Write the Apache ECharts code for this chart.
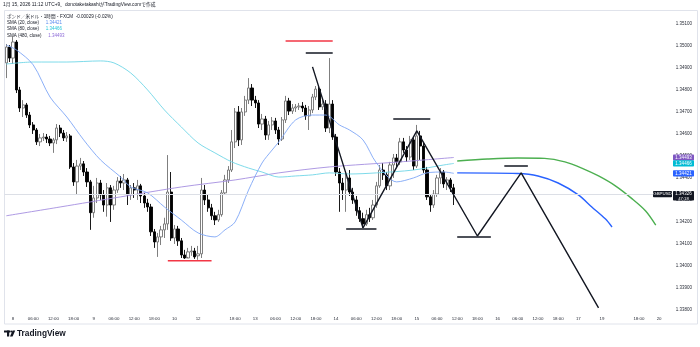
<!DOCTYPE html>
<html><head><meta charset="utf-8">
<script src="https://cdn.jsdelivr.net/npm/echarts@6/dist/echarts.min.js"></script>
<style>html,body{margin:0;padding:0;background:#fff}#c{width:700px;height:347px}</style>
</head><body><div id="c"></div><script>
// trading sessions shown on the time axis: [day of Jan, first hour, last hour] (JST, weekend gaps removed)
const SESSIONS = [[7,22,23],[8,0,23],[9,0,23],[10,0,6],[12,7,23],[13,0,23],[14,0,23],[15,0,23],[16,0,23],[17,0,6],[19,7,23],[20,0,0]];
const TICK_LABELS = [
 ['1/8 00:00','8'],['1/8 06:00','06:00'],['1/8 12:00','12:00'],['1/8 18:00','18:00'],
 ['1/9 00:00','9'],['1/9 06:00','06:00'],['1/9 12:00','12:00'],['1/9 18:00','18:00'],
 ['1/10 00:00','10'],['1/12 07:00','12'],['1/12 18:00','18:00'],
 ['1/13 00:00','13'],['1/13 06:00','06:00'],['1/13 12:00','12:00'],['1/13 18:00','18:00'],
 ['1/14 00:00','14'],['1/14 06:00','06:00'],['1/14 12:00','12:00'],['1/14 18:00','18:00'],
 ['1/15 00:00','15'],['1/15 06:00','06:00'],['1/15 12:00','12:00'],['1/15 18:00','18:00'],
 ['1/16 00:00','16'],['1/16 06:00','06:00'],['1/16 12:00','12:00'],['1/16 18:00','18:00'],
 ['1/17 00:00','17'],['1/19 07:00','19'],['1/19 18:00','18:00'],['1/20 00:00','20']
];
// hourly candles: [open, close, low, high]
const CANDLES = [
[1.34923,1.34995,1.34854,1.35009],[1.34995,1.34945,1.34927,1.35004],[1.34945,1.35018,1.34918,1.35045],[1.35018,1.34800,1.34786,1.35027],
[1.34800,1.34718,1.34700,1.34814],[1.34718,1.34732,1.34677,1.34754],[1.34732,1.34686,1.34673,1.34741],[1.34686,1.34641,1.34627,1.34700],
[1.34641,1.34618,1.34600,1.34654],[1.34618,1.34564,1.34550,1.34627],[1.34564,1.34582,1.34545,1.34600],[1.34582,1.34586,1.34568,1.34604],
[1.34586,1.34577,1.34559,1.34600],[1.34577,1.34559,1.34545,1.34591],[1.34559,1.34573,1.34514,1.34582],[1.34573,1.34627,1.34554,1.34645],
[1.34627,1.34604,1.34586,1.34641],[1.34604,1.34582,1.34568,1.34618],[1.34582,1.34591,1.34564,1.34609],[1.34591,1.34450,1.34441,1.34600],
[1.34450,1.34382,1.34364,1.34468],[1.34382,1.34454,1.34323,1.34482],[1.34454,1.34464,1.34436,1.34491],[1.34464,1.34427,1.34409,1.34477],
[1.34427,1.34382,1.34359,1.34445],[1.34382,1.34242,1.34164,1.34391],[1.34242,1.34309,1.34219,1.34364],[1.34309,1.34377,1.34286,1.34400],
[1.34377,1.34323,1.34300,1.34391],[1.34323,1.34277,1.34246,1.34345],[1.34277,1.34355,1.34224,1.34377],[1.34355,1.34277,1.34200,1.34368],
[1.34277,1.34345,1.34255,1.34364],[1.34345,1.34386,1.34332,1.34404],[1.34386,1.34377,1.34355,1.34409],[1.34377,1.34391,1.34345,1.34418],
[1.34391,1.34323,1.34277,1.34400],[1.34323,1.34355,1.34300,1.34368],[1.34355,1.34345,1.34309,1.34377],[1.34345,1.34364,1.34300,1.34391],
[1.34364,1.34318,1.34286,1.34373],[1.34318,1.34286,1.34264,1.34332],[1.34286,1.34268,1.34246,1.34305],[1.34268,1.34155,1.34136,1.34282],
[1.34155,1.34109,1.34082,1.34168],[1.34109,1.34132,1.34041,1.34150],[1.34132,1.34164,1.34095,1.34182],[1.34164,1.34191,1.34127,1.34219],
[1.34191,1.34336,1.34164,1.34504],[1.34336,1.34127,1.34114,1.34427],[1.34127,1.34168,1.34100,1.34186],[1.34168,1.34114,1.34091,1.34182],
[1.34114,1.34050,1.34036,1.34127],[1.34050,1.34036,1.34032,1.34073],[1.34036,1.34064,1.34041,1.34082],[1.34064,1.34068,1.34046,1.34091],
[1.34068,1.34041,1.34032,1.34082],[1.34046,1.34055,1.34028,1.34091],[1.34055,1.34345,1.34036,1.34400],[1.34345,1.34300,1.34277,1.34368],
[1.34300,1.34264,1.34246,1.34323],[1.34264,1.34228,1.34209,1.34282],[1.34228,1.34209,1.34186,1.34246],[1.34209,1.34233,1.34200,1.34255],
[1.34233,1.34332,1.34224,1.34345],[1.34332,1.34391,1.34323,1.34414],[1.34391,1.34436,1.34377,1.34454],[1.34436,1.34564,1.34427,1.34618],
[1.34564,1.34700,1.34536,1.34718],[1.34700,1.34573,1.34545,1.34727],[1.34573,1.34700,1.34550,1.34718],[1.34700,1.34754,1.34682,1.34773],
[1.34754,1.34809,1.34736,1.34854],[1.34809,1.34754,1.34727,1.34827],[1.34754,1.34741,1.34718,1.34773],[1.34741,1.34645,1.34627,1.34754],
[1.34645,1.34668,1.34618,1.34691],[1.34668,1.34595,1.34573,1.34682],[1.34595,1.34641,1.34573,1.34659],[1.34641,1.34659,1.34618,1.34677],
[1.34659,1.34618,1.34600,1.34673],[1.34618,1.34577,1.34550,1.34632],[1.34577,1.34664,1.34568,1.34677],[1.34664,1.34750,1.34650,1.34773],
[1.34750,1.34704,1.34686,1.34764],[1.34704,1.34718,1.34691,1.34736],[1.34718,1.34723,1.34700,1.34736],[1.34723,1.34727,1.34709,1.34741],
[1.34727,1.34718,1.34700,1.34745],[1.34718,1.34682,1.34664,1.34732],[1.34682,1.34709,1.34618,1.34727],[1.34709,1.34768,1.34695,1.34782],
[1.34768,1.34804,1.34754,1.34818],[1.34804,1.34723,1.34709,1.34818],[1.34723,1.34736,1.34709,1.34754],[1.34736,1.34627,1.34609,1.34754],
[1.34627,1.34736,1.34604,1.34945],[1.34736,1.34586,1.34573,1.34754],[1.34586,1.34427,1.34409,1.34600],[1.34427,1.34377,1.34246,1.34445],
[1.34377,1.34345,1.34300,1.34400],[1.34345,1.34400,1.34246,1.34427],[1.34400,1.34336,1.34318,1.34436],[1.34336,1.34300,1.34282,1.34355],
[1.34300,1.34251,1.34228,1.34318],[1.34251,1.34215,1.34200,1.34268],[1.34215,1.34191,1.34173,1.34242],[1.34191,1.34233,1.34182,1.34255],
[1.34233,1.34219,1.34200,1.34264],[1.34219,1.34277,1.34209,1.34300],[1.34277,1.34364,1.34264,1.34382],[1.34364,1.34436,1.34355,1.34459],
[1.34436,1.34414,1.34391,1.34468],[1.34414,1.34364,1.34345,1.34427],[1.34364,1.34459,1.34345,1.34473],[1.34459,1.34491,1.34400,1.34509],
[1.34491,1.34473,1.34445,1.34509],[1.34473,1.34564,1.34459,1.34582],[1.34564,1.34527,1.34514,1.34582],[1.34527,1.34495,1.34473,1.34545],
[1.34495,1.34573,1.34482,1.34591],[1.34573,1.34454,1.34436,1.34586],[1.34454,1.34591,1.34445,1.34641],[1.34591,1.34545,1.34482,1.34614],
[1.34545,1.34436,1.34423,1.34559],[1.34436,1.34314,1.34300,1.34450],[1.34314,1.34277,1.34246,1.34327],[1.34277,1.34327,1.34264,1.34345],
[1.34327,1.34400,1.34314,1.34414],[1.34400,1.34427,1.34373,1.34445],[1.34427,1.34373,1.34355,1.34436],[1.34373,1.34391,1.34345,1.34404],
[1.34391,1.34355,1.34336,1.34400],[1.34355,1.34326,1.34277,1.34373]
];
const LAST_PRICE = 1.34326;
// moving averages: [bar index, value]
const SMA20 = [[0,1.35004],[3,1.34982],[8,1.34914],[13,1.34768],[18,1.34677],[23,1.34573],[28,1.34482],[34,1.34404],[37,1.34359],[42,1.34332],[47,1.34268],[52,1.34209],[57,1.34150],[62,1.34132],[65,1.34164],[68,1.34200],[72,1.34345],[76,1.34468],[79,1.34527],[81,1.34564],[86,1.34664],[91,1.34686],[95,1.34686],[99,1.34641],[102,1.34618],[106,1.34573],[110,1.34468],[116,1.34382],[121,1.34400],[125,1.34423],[130,1.34427],[133,1.34421]];
const SMA80 = [[0,1.34918],[8,1.34927],[18,1.34927],[28,1.34932],[32,1.34923],[37,1.34877],[42,1.34800],[47,1.34709],[52,1.34632],[57,1.34559],[62,1.34514],[67,1.34473],[72,1.34445],[76,1.34427],[81,1.34404],[86,1.34409],[91,1.34414],[96,1.34423],[102,1.34418],[110,1.34423],[121,1.34436],[130,1.34459],[133,1.34466]];
const SMA480 = [[0,1.34228],[16,1.34268],[34,1.34314],[52,1.34359],[68,1.34391],[81,1.34423],[96,1.34450],[117,1.34473],[133,1.34493]];
// projected curves drawn on the chart
const PROJ_GREEN = [[134,1.34477],[143,1.34486],[152,1.34491],[160,1.34489],[166,1.34473],[171,1.34445],[176,1.34409],[181,1.34364],[186,1.34305],[190,1.34250],[193,1.34186]];
const PROJ_BLUE = [[134,1.34423],[152,1.34420],[158,1.34409],[164,1.34377],[170,1.34323],[174,1.34268],[178,1.34214],[180,1.34177]];
const ZIGZAG = [[91,1.34905],[106,1.34173],[122,1.34614],[140,1.34136],[153,1.34423],[176,1.33809]];
const RED_LEVELS = [[83,97,1.35023],[48,61,1.34023]];
const BLACK_LEVELS = [[89,97,1.34968],[101,110,1.34168],[115,126,1.34668],[134,144,1.34132],[148,155,1.34454]];
const MA_TAGS = [[1.34493,'#7e57c2'],[1.34466,'#00bcd4'],[1.34421,'#2962ff']];

const FONT = '"Liberation Sans","Noto Sans CJK JP",sans-serif';
const cats = [];
SESSIONS.forEach(([d,h0,h1]) => { for (let h=h0; h<=h1; h++) cats.push('1/'+d+' '+String(h).padStart(2,'0')+':00'); });
const tickMap = Object.fromEntries(TICK_LABELS);

const chart = echarts.init(document.getElementById('c'));
const series = [
  {type:'candlestick', data:CANDLES, barWidth:'80%', z:2,
   itemStyle:{color:'#ffffff', color0:'#000000', borderColor:'#707070', borderColor0:'#000000', borderWidth:0.9}},
  {type:'line', data:SMA480, smooth:0.3, symbol:'none', z:3, lineStyle:{color:'#a58ee0', width:0.9},
   markLine:{silent:true, symbol:'none', precision:5, label:{show:false}, lineStyle:{color:'#dcdfe6', width:1, type:'solid'}, data:[{yAxis:LAST_PRICE}]}},
  {type:'line', data:SMA80, smooth:0.3, symbol:'none', z:3, lineStyle:{color:'#6fd6e6', width:0.9}},
  {type:'line', data:SMA20, smooth:0.3, symbol:'none', z:3, lineStyle:{color:'#7ea6f6', width:0.9}},
  {type:'line', data:PROJ_GREEN, smooth:0.3, symbol:'none', z:4, lineStyle:{color:'#4caf50', width:1.4}},
  {type:'line', data:PROJ_BLUE, smooth:0.3, symbol:'none', z:4, lineStyle:{color:'#2962ff', width:1.4}},
  {type:'line', data:ZIGZAG, symbol:'none', z:5, lineStyle:{color:'#131722', width:1.4}}
];
RED_LEVELS.forEach(([a,b,v]) => series.push({type:'line', data:[[a,v],[b,v]], symbol:'none', z:5, lineStyle:{color:'#f23645', width:1.5}}));
BLACK_LEVELS.forEach(([a,b,v]) => series.push({type:'line', data:[[a,v],[b,v]], symbol:'none', z:5, lineStyle:{color:'#131722', width:1.5}}));

chart.setOption({
  animation:false,
  backgroundColor:'#ffffff',
  grid:{left:4.6, right:39.2, top:11, bottom:34, containLabel:false},
  xAxis:{type:'category', data:cats, boundaryGap:true,
    axisLine:{show:false}, axisTick:{show:false}, splitLine:{show:false},
    axisLabel:{interval:(i,v)=>v in tickMap, formatter:v=>tickMap[v]||'', fontSize:4.4, color:'#2a2e39', margin:4, fontFamily:FONT}},
  yAxis:{type:'value', position:'right', min:1.33786, max:1.35159, splitNumber:14, scale:true,
    axisLine:{show:false}, axisTick:{show:false}, splitLine:{show:false},
    axisLabel:{fontSize:4.5, color:'#2a2e39', margin:15, fontFamily:FONT,
      formatter:v=>Math.abs(v*1000-Math.round(v*1000))<1e-6 ? v.toFixed(5) : ''}},
  series
});

const yp = v => chart.convertToPixel({yAxisIndex:0}, v);
const g = [];
g.push({type:'rect', shape:{x:4.5, y:10.5, width:693, height:313.5}, style:{fill:null, stroke:'#e0e3eb', lineWidth:1}, z:-1, silent:true});
g.push({type:'text', x:3, y:5, style:{text:'1月 15, 2026 11:12 UTC+9、donotaketakashiがTradingView.comで作成', font:'4.8px '+FONT, fill:'#131722', verticalAlign:'middle'}});
g.push({type:'text', x:7, y:16.5, style:{text:'ポンド／米ドル・1時間・FXCM  -0.00029 (-0.02%)', font:'4.6px '+FONT, fill:'#131722', verticalAlign:'middle'}});
const legendRows = [['SMA (20, close)','1.34421','#5b8def'],['SMA (80, close)','1.34466','#26c6da'],['SMA (480, close)','1.34493','#8e6cd8']];
legendRows.forEach(([t,v,c],k) => g.push({type:'text', x:7, y:22.8+k*6.3, style:{
  text:'{a|'+t+'}  {b|'+v+'}', verticalAlign:'middle',
  rich:{a:{font:'4.5px '+FONT, fill:'#131722'}, b:{font:'4.5px '+FONT, fill:c}}}}));
MA_TAGS.forEach(([v,c]) => {
  const y = yp(v);
  g.push({type:'rect', shape:{x:673, y:y-3.1, width:21, height:6.2, r:0.8}, style:{fill:c}, z:10});
  g.push({type:'text', x:683.5, y:y, style:{text:v.toFixed(5), font:'4.5px '+FONT, fill:'#ffffff', align:'center', verticalAlign:'middle'}, z:11});
});
const ly = yp(LAST_PRICE);
g.push({type:'rect', shape:{x:673, y:ly-3.2, width:21, height:9.6, r:0.8}, style:{fill:'#131722'}, z:10});
g.push({type:'text', x:683.5, y:ly, style:{text:LAST_PRICE.toFixed(5), font:'4.5px '+FONT, fill:'#ffffff', align:'center', verticalAlign:'middle'}, z:11});
g.push({type:'text', x:683.5, y:ly+4.4, style:{text:'47:18', font:'4.2px '+FONT, fill:'#ffffff', align:'center', verticalAlign:'middle'}, z:11});
g.push({type:'rect', shape:{x:653, y:ly-3.1, width:19, height:6.2, r:0.8}, style:{fill:'#131722'}, z:10});
g.push({type:'text', x:662.5, y:ly, style:{text:'GBPUSD', font:'4.4px '+FONT, fill:'#ffffff', align:'center', verticalAlign:'middle'}, z:11});
// TradingView logo
g.push({type:'rect', shape:{x:4, y:330.5, width:6, height:2}, style:{fill:'#131722'}});
g.push({type:'rect', shape:{x:7, y:330.5, width:2.2, height:6}, style:{fill:'#131722'}});
g.push({type:'circle', shape:{cx:11.2, cy:331.5, r:1}, style:{fill:'#131722'}});
g.push({type:'polygon', shape:{points:[[12.6,330.5],[15.2,330.5],[12.6,336.5],[10,336.5]]}, style:{fill:'#131722'}});
g.push({type:'text', x:17, y:333.5, style:{text:'TradingView', font:'600 8.3px '+FONT, fill:'#131722', verticalAlign:'middle'}});
chart.setOption({graphic:g});
</script></body></html>
